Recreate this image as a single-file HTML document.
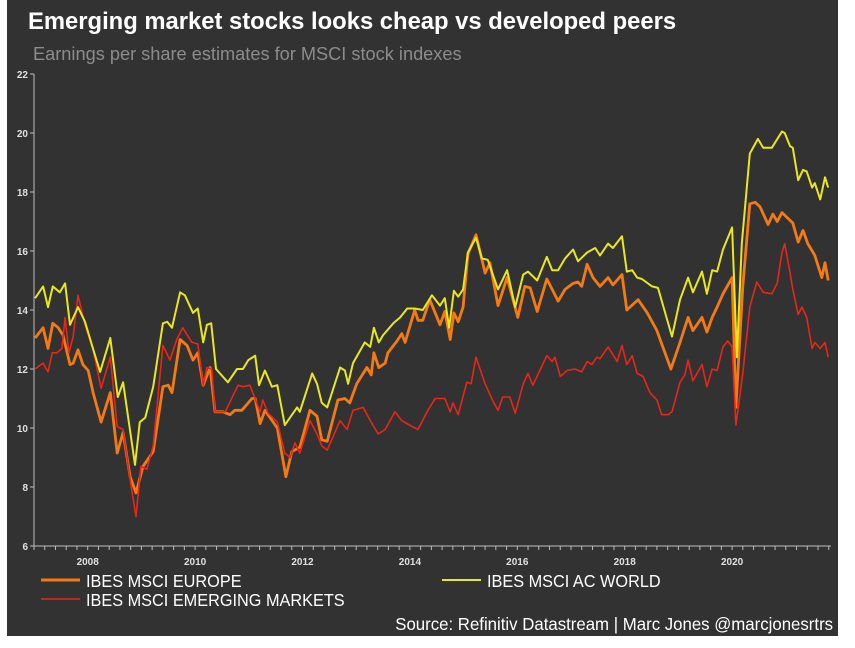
<!DOCTYPE html>
<html><head><meta charset="utf-8">
<style>
html,body{margin:0;padding:0;background:#fff;width:855px;height:648px;overflow:hidden}
#panel{position:absolute;left:7px;top:0;width:831px;height:636px;background:#323232}
.t{position:absolute;font-family:"Liberation Sans",sans-serif;white-space:nowrap}
</style></head><body>
<div id="panel"></div>
<div class="t" style="left:28px;top:8px;font-size:23.8px;font-weight:bold;color:#fff">Emerging market stocks looks cheap vs developed peers</div>
<div class="t" style="left:33px;top:44px;font-size:18.2px;color:#8c8c8c">Earnings per share estimates for MSCI stock indexes</div>
<svg id="chart" width="855" height="648" style="position:absolute;left:0;top:0"></svg>
<div class="t" style="left:86px;top:571px;font-size:17.5px;color:#fff;transform:scaleX(0.93);transform-origin:left">IBES MSCI EUROPE</div>
<div class="t" style="left:487px;top:571px;font-size:17.5px;color:#fff;transform:scaleX(0.93);transform-origin:left">IBES MSCI AC WORLD</div>
<div class="t" style="left:86px;top:590px;font-size:17.5px;color:#fff;transform:scaleX(0.93);transform-origin:left">IBES MSCI EMERGING MARKETS</div>
<div class="t" style="right:22px;top:614px;font-size:17.5px;color:#fff;transform:scaleX(0.96);transform-origin:right">Source: Refinitiv Datastream | Marc Jones @marcjonesrtrs</div>
<script>
const yTicks=[6,8,10,12,14,16,18,20,22];
const xTickYears=[2008,2010,2012,2014,2016,2018,2020];
const worldDates=[2007.02,2007.17,2007.26,2007.35,2007.48,2007.58,2007.67,2007.82,2007.95,2008.08,2008.23,2008.42,2008.56,2008.66,2008.88,2008.97,2009.07,2009.22,2009.40,2009.48,2009.57,2009.72,2009.81,2009.96,2010.05,2010.15,2010.22,2010.30,2010.39,2010.61,2010.78,2010.89,2010.99,2011.12,2011.19,2011.30,2011.43,2011.53,2011.67,2011.90,2011.95,2012.18,2012.27,2012.36,2012.46,2012.70,2012.79,2012.85,2012.94,2013.16,2013.26,2013.33,2013.42,2013.50,2013.69,2013.82,2013.95,2014.09,2014.24,2014.41,2014.56,2014.65,2014.73,2014.82,2014.90,2014.99,2015.08,2015.23,2015.34,2015.45,2015.64,2015.81,2015.96,2016.11,2016.20,2016.37,2016.55,2016.65,2016.76,2016.89,2017.04,2017.13,2017.30,2017.45,2017.54,2017.69,2017.78,2017.95,2018.04,2018.14,2018.23,2018.32,2018.51,2018.62,2018.88,2019.03,2019.18,2019.27,2019.44,2019.53,2019.63,2019.72,2019.83,2020.00,2020.09,2020.18,2020.33,2020.48,2020.58,2020.74,2020.93,2020.98,2021.08,2021.13,2021.23,2021.32,2021.39,2021.49,2021.54,2021.64,2021.73,2021.79];
const worldValues=[14.4,14.8,14.1,14.8,14.6,14.9,13.5,14.1,13.6,12.8,11.9,13.05,11.05,11.55,8.75,10.2,10.35,11.4,13.55,13.6,13.4,14.6,14.5,13.9,14.05,12.9,13.5,13.55,12.0,11.55,12.0,12.0,12.3,12.45,11.45,11.95,11.4,11.45,10.1,10.7,10.55,11.85,11.5,10.85,10.7,12.05,11.95,11.5,12.2,12.9,12.75,13.4,12.9,13.15,13.55,13.75,14.05,14.05,14.0,14.5,14.15,14.4,13.4,14.65,14.45,14.7,15.95,16.45,15.75,15.7,14.7,15.35,14.1,15.2,15.3,15.0,15.8,15.35,15.35,15.75,16.05,15.65,15.95,16.1,15.85,16.25,16.1,16.5,15.3,15.35,15.1,15.05,14.8,14.75,13.1,14.35,15.1,14.6,15.3,14.55,15.35,15.3,16.05,16.8,12.4,16.25,19.3,19.8,19.5,19.5,20.05,20.0,19.55,19.5,18.4,18.75,18.7,18.15,18.3,17.75,18.5,18.15];
const europeDates=[2007.02,2007.17,2007.26,2007.35,2007.45,2007.54,2007.67,2007.73,2007.82,2007.91,2008.01,2008.10,2008.25,2008.42,2008.55,2008.66,2008.79,2008.90,2009.03,2009.22,2009.40,2009.50,2009.57,2009.72,2009.85,2009.96,2010.05,2010.15,2010.28,2010.37,2010.52,2010.65,2010.74,2010.87,2011.06,2011.12,2011.21,2011.30,2011.53,2011.69,2011.80,2011.95,2012.14,2012.27,2012.36,2012.46,2012.66,2012.79,2012.88,2013.01,2013.20,2013.28,2013.33,2013.42,2013.54,2013.59,2013.76,2013.85,2013.91,2014.09,2014.15,2014.24,2014.37,2014.56,2014.65,2014.75,2014.82,2014.90,2014.99,2015.08,2015.23,2015.40,2015.49,2015.64,2015.81,2016.01,2016.14,2016.24,2016.37,2016.55,2016.65,2016.76,2016.89,2017.04,2017.13,2017.20,2017.30,2017.41,2017.54,2017.69,2017.78,2017.95,2018.04,2018.25,2018.42,2018.60,2018.71,2018.86,2019.03,2019.18,2019.27,2019.44,2019.53,2019.63,2019.72,2019.83,2020.00,2020.07,2020.20,2020.33,2020.43,2020.52,2020.67,2020.76,2020.84,2020.93,2021.13,2021.23,2021.32,2021.41,2021.54,2021.67,2021.73,2021.79];
const europeValues=[13.05,13.4,12.7,13.55,13.4,13.15,12.15,12.2,12.65,12.15,11.95,11.2,10.2,11.2,9.15,9.85,8.35,7.8,8.7,9.2,11.4,11.45,11.2,13.0,12.8,12.3,12.55,11.45,12.05,10.55,10.55,10.45,10.6,10.6,11.0,11.0,10.15,10.6,10.0,8.35,9.2,9.35,10.6,10.4,9.6,9.55,10.95,11.0,10.85,11.5,12.05,11.8,12.55,12.05,12.2,12.55,12.95,13.2,12.9,14.0,13.65,13.65,14.35,13.5,13.95,13.0,13.9,13.6,14.1,15.9,16.55,15.25,15.6,14.15,15.1,13.75,14.8,14.75,13.95,15.05,14.7,14.3,14.7,14.9,14.95,14.8,15.55,15.1,14.8,15.1,14.85,15.2,14.0,14.35,13.9,13.3,12.75,12.0,12.9,13.75,13.3,13.75,13.25,13.75,14.1,14.55,15.1,10.7,14.8,17.6,17.65,17.5,16.9,17.25,17.0,17.3,16.95,16.3,16.7,16.25,15.85,15.1,15.6,15.0];
const emDates=[2007.02,2007.17,2007.26,2007.34,2007.43,2007.52,2007.58,2007.65,2007.73,2007.82,2007.95,2008.10,2008.25,2008.42,2008.55,2008.66,2008.79,2008.90,2008.99,2009.10,2009.22,2009.40,2009.53,2009.66,2009.77,2009.94,2010.05,2010.15,2010.22,2010.31,2010.37,2010.56,2010.80,2010.89,2011.02,2011.21,2011.26,2011.36,2011.53,2011.67,2011.77,2011.86,2011.95,2012.14,2012.27,2012.36,2012.46,2012.70,2012.83,2012.94,2013.13,2013.26,2013.41,2013.54,2013.72,2013.85,2014.04,2014.15,2014.32,2014.47,2014.65,2014.75,2014.80,2014.90,2015.06,2015.14,2015.23,2015.40,2015.55,2015.64,2015.73,2015.86,2015.96,2016.11,2016.20,2016.29,2016.55,2016.65,2016.70,2016.80,2016.93,2017.07,2017.20,2017.30,2017.39,2017.48,2017.54,2017.69,2017.86,2017.95,2018.04,2018.14,2018.23,2018.34,2018.47,2018.60,2018.69,2018.81,2018.88,2019.03,2019.12,2019.18,2019.27,2019.44,2019.53,2019.63,2019.72,2019.83,2019.92,2020.00,2020.07,2020.20,2020.33,2020.46,2020.58,2020.74,2020.84,2020.93,2020.98,2021.08,2021.13,2021.23,2021.30,2021.39,2021.49,2021.54,2021.64,2021.73,2021.79];
const emValues=[12.0,12.2,11.9,12.55,12.55,12.7,13.75,12.55,13.1,14.5,13.5,12.65,11.35,12.4,10.05,9.95,8.25,7.0,8.7,8.6,9.4,12.8,12.3,13.0,13.4,12.9,12.85,11.45,12.05,12.0,10.55,10.55,11.45,11.4,11.45,10.55,10.95,10.5,10.2,9.15,9.0,9.5,9.15,10.25,9.8,9.4,9.25,10.25,9.95,10.6,10.7,10.25,9.8,9.95,10.55,10.25,10.05,9.95,10.55,11.0,11.0,10.55,10.85,10.45,11.55,11.5,12.4,11.5,10.9,10.6,11.05,11.05,10.5,11.5,11.85,11.45,12.45,12.25,12.4,11.75,11.95,12.0,11.9,12.25,12.15,12.4,12.35,12.75,12.25,12.8,12.15,12.45,11.85,11.75,11.2,10.95,10.45,10.45,10.55,11.55,11.8,12.3,11.6,12.15,11.4,12.0,11.95,12.75,12.95,12.75,10.1,11.85,14.1,14.95,14.6,14.55,14.9,15.95,16.25,15.25,14.7,13.85,14.1,13.75,12.7,12.9,12.7,12.9,12.4];

const NS='http://www.w3.org/2000/svg';
const svg=document.getElementById('chart');
const X0=34,X1=829,Y0=546,Y1=74,YMIN=6,YMAX=22,T0=2007,PXY=53.7;
function xs(t){return X0+(t-T0)*PXY;}
function ys(v){return Y0-(v-YMIN)/(YMAX-YMIN)*(Y0-Y1);}
function mk(tag,attrs){const e=document.createElementNS(NS,tag);for(const k in attrs)e.setAttribute(k,attrs[k]);svg.appendChild(e);return e;}

const yAxis=mk('line',{x1:X0,y1:Y1,x2:X0,y2:Y0,stroke:'#bdbdbd','stroke-width':1});


const xAxis=mk('line',{x1:X0,y1:Y0,x2:X1+2,y2:Y0,stroke:'#bdbdbd','stroke-width':1});



yTicks.forEach(v=>{
  const tk=mk('line',{x1:X0-4,y1:ys(v),x2:X0,y2:ys(v),stroke:'#bdbdbd'});
  
  
  const tx=mk('text',{x:X0-6,y:ys(v)+4,'text-anchor':'end','font-family':'Liberation Sans, sans-serif','font-size':10,'font-weight':'bold',fill:'#e0e0e0'});
  tx.textContent=v;
  
  
});
for(let t=T0;t<=2021.85;t+=0.2){
  const tk=mk('line',{x1:xs(t),y1:Y0,x2:xs(t),y2:Y0+4,stroke:'#bdbdbd'});
  
  
}
xTickYears.forEach(yr=>{
  const tx=mk('text',{x:xs(yr),y:Y0+19,'text-anchor':'middle','font-family':'Liberation Sans, sans-serif','font-size':10,'font-weight':'bold',fill:'#e0e0e0'});
  tx.textContent=yr;
  
  
});
function series(d,v,color,w,name){
  const pts=d.map((t,i)=>xs(t).toFixed(1)+','+ys(v[i]).toFixed(1)).join(' ');
  const p=mk('polyline',{points:pts,fill:'none',stroke:color,'stroke-width':w,'stroke-linejoin':'round'});
  
  
}
series(europeDates,europeValues,'#f47a14',2.8,'europe-line');
series(emDates,emValues,'#e8261a',1.6,'emerging-markets-line');
series(worldDates,worldValues,'#e8e81c',2,'world-line');

const l1=mk('line',{x1:41,y1:580,x2:80,y2:580,stroke:'#f47a14','stroke-width':3});


const l2=mk('line',{x1:442,y1:580,x2:481,y2:580,stroke:'#e8e81c','stroke-width':2});


const l3=mk('line',{x1:41,y1:599,x2:80,y2:599,stroke:'#e8261a','stroke-width':1.6});


</script>
</body></html>
